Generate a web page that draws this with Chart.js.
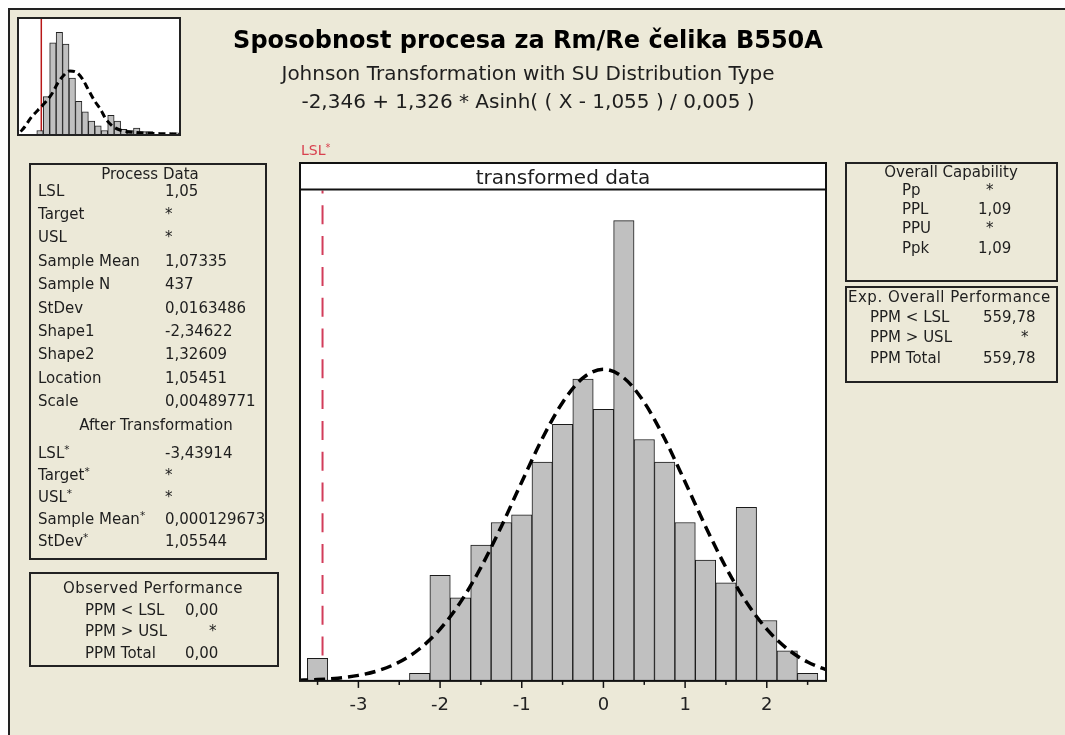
<!DOCTYPE html>
<html>
<head>
<meta charset="utf-8">
<script src="https://cdn.jsdelivr.net/npm/chart.js@4.4.0/dist/chart.umd.min.js"></script>
<style>
  html, body { margin: 0; padding: 0; background: #fff; }
  body { width: 1065px; height: 735px; position: relative; overflow: hidden; font-family: "DejaVu Sans", sans-serif; color: #1e1e1e; }
  #frame { position: absolute; left: 8px; top: 8px; width: 1057px; height: 727px; background: #ECE9D8; border-left: 2px solid #222; border-top: 2px solid #222; box-sizing: border-box; }
  #main { position: absolute; left: 0; top: 0; }
  #inset { position: absolute; left: 17px; top: 17px; width: 164px; height: 119px; border: 2px solid #222; background: #fff; box-sizing: border-box; }
  #inset canvas { display: block; }
  .box { position: absolute; border: 2px solid #222; box-sizing: border-box; }
  .t { position: absolute; white-space: nowrap; line-height: 1; }
  .t sup { font-size: 0.7em; vertical-align: 0.45em; line-height: 0; }
</style>
</head>
<body>
<div id="frame"></div>
<canvas id="main" width="1065" height="735"></canvas>
<div id="inset"><canvas id="raw" width="160" height="115"></canvas></div>
<div id="texts"></div>
<script>
// transformed data histogram (bin centres, counts)
const binCenters = [-3.5, -3.25, -3.0, -2.75, -2.5, -2.25, -2.0, -1.75, -1.5, -1.25, -1.0, -0.75, -0.5,
                    -0.25, 0, 0.25, 0.5, 0.75, 1.0, 1.25, 1.5, 1.75, 2.0, 2.25, 2.5];
const binCounts = [3, 0, 0, 0, 0, 1, 14, 11, 18, 21, 22, 29, 34, 40, 36, 61, 32, 29, 21, 16, 13, 23, 8, 4, 1];

// fitted curve
const curveX = [-3.75, -3.5, -3.25, -3.0, -2.75, -2.5, -2.25, -2.0, -1.75, -1.5, -1.25, -1.0, -0.75, -0.5,
                -0.25, 0, 0.25, 0.5, 0.75, 1.0, 1.25, 1.5, 1.75, 2.0, 2.25, 2.5, 2.75];
const curveY = [0.08, 0.17, 0.36, 0.73, 1.39, 2.5, 4.26, 6.86, 10.44, 15.04, 20.48, 26.37, 32.09, 36.91,
                40.16, 41.3, 40.16, 36.91, 32.09, 26.37, 20.48, 15.04, 10.44, 6.86, 4.26, 2.5, 1.39];

// raw data inset (top left)
const rawCenters = [1.049, 1.054, 1.059, 1.064, 1.069, 1.074, 1.079, 1.084, 1.089, 1.094, 1.099,
                    1.104, 1.109, 1.114, 1.119, 1.124, 1.129, 1.134, 1.139, 1.144, 1.149, 1.154];
const rawCounts = [3, 32, 78, 87, 77, 48, 28, 19, 11, 7, 3, 16, 11, 4, 3, 5, 2, 2, 0, 0, 0, 1];
const rawCurveX = [1.034, 1.037, 1.042, 1.047, 1.053, 1.058, 1.063, 1.068, 1.072, 1.077, 1.082,
                   1.086, 1.091, 1.096, 1.100, 1.105, 1.111, 1.123, 1.142, 1.157];
const rawCurveY = [2, 6, 14, 20, 27, 34, 44, 51, 54, 53, 47, 39, 29, 21, 13, 7, 3.4, 1.3, 0.3, 0];

const lsl = 1.05;
const lslT = -3.43914;

// text panels
const titleText = 'Sposobnost procesa za Rm/Re čelika B550A';
const subtitleText = 'Johnson Transformation with SU Distribution Type';
const formulaText = '-2,346 + 1,326 * Asinh( ( X - 1,055 ) / 0,005 )';
const processLabels = ['LSL', 'Target', 'USL', 'Sample Mean', 'Sample N', 'StDev', 'Shape1', 'Shape2', 'Location', 'Scale'];
const processValues = ['1,05', '*', '*', '1,07335', '437', '0,0163486', '-2,34622', '1,32609', '1,05451', '0,00489771'];
const afterLabels = ['LSL*', 'Target*', 'USL*', 'Sample Mean*', 'StDev*'];
const afterValues = ['-3,43914', '*', '*', '0,000129673', '1,05544'];
const observedLabels = ['PPM < LSL', 'PPM > USL', 'PPM Total'];
const observedValues = ['0,00', '*', '0,00'];
const capLabels = ['Pp', 'PPL', 'PPU', 'Ppk'];
const capValues = ['*', '1,09', '*', '1,09'];
const expLabels = ['PPM < LSL', 'PPM > USL', 'PPM Total'];
const expValues = ['559,78', '*', '559,78'];

const FONT = 'DejaVu Sans';
const headerTop = 163;

// ---------- html text ----------
const host = document.getElementById('texts');

function addBox(l, t, w, h) {
    const d = document.createElement('div');
    d.className = 'box';
    Object.assign(d.style, { left: l + 'px', top: t + 'px', width: w + 'px', height: h + 'px' });
    host.appendChild(d);
}

function addText(str, x, y, size, opt) {
    opt = opt || {};
    const d = document.createElement('div');
    d.className = 't';
    if (opt.sup && /\*$/.test(str)) {
        d.textContent = str.slice(0, -1);
        const s = document.createElement('sup');
        s.textContent = '*';
        d.appendChild(s);
    } else {
        d.textContent = str;
    }
    d.style.fontSize = size + 'px';
    d.style.left = x + 'px';
    d.style.top = (y - size * 0.5) + 'px';
    if (opt.bold) d.style.fontWeight = 'bold';
    if (opt.color) d.style.color = opt.color;
    if (opt.spacing) d.style.letterSpacing = opt.spacing + 'px';
    if (opt.align === 'center') d.style.transform = 'translateX(-50%)';
    if (opt.align === 'right') d.style.transform = 'translateX(-100%)';
    host.appendChild(d);
}

addText(titleText, 528, 40, 24, { bold: true, align: 'center', color: '#000' });
addText(subtitleText, 528, 73, 20, { align: 'center' });
addText(formulaText, 528, 101, 20, { align: 'center' });
addText('transformed data', 563, 177, 20, { align: 'center' });
addText('LSL*', 301, 150, 14, { color: '#d8404e', sup: true });

const PS = 15;
// process data
addBox(29, 163, 238, 397);
addText('Process Data', 150, 174, PS, { align: 'center' });
processLabels.forEach((s, i) => {
    const y = 191 + 23.4 * i;
    addText(s, 38, y, PS);
    addText(processValues[i], 165, y, PS);
});
addText('After Transformation', 156, 425, PS, { align: 'center' });
afterLabels.forEach((s, i) => {
    const y = 453 + 22 * i;
    addText(s, 38, y, PS, { sup: true });
    addText(afterValues[i], 165, y, PS);
});

// observed performance
addBox(29, 572, 250, 95);
addText('Observed Performance', 153, 588, PS, { align: 'center', spacing: 0.4 });
observedLabels.forEach((s, i) => {
    const y = 610 + 21.6 * i;
    addText(s, 85, y, PS);
    addText(observedValues[i], observedValues[i] === '*' ? 209 : 185, y, PS);
});

// overall capability
addBox(845, 162, 213, 120);
addText('Overall Capability', 951, 172, PS, { align: 'center' });
capLabels.forEach((s, i) => {
    const y = 190 + 19.4 * i;
    addText(s, 902, y, PS);
    addText(capValues[i], capValues[i] === '*' ? 986 : 978, y, PS);
});

// expected overall performance
addBox(845, 286, 213, 97);
addText('Exp. Overall Performance', 848, 297, PS, { spacing: 0.5 });
expLabels.forEach((s, i) => {
    const y = 317 + 20.5 * i;
    addText(s, 870, y, PS);
    addText(expValues[i], expValues[i] === '*' ? 1021 : 983, y, PS);
});

// ---------- main histogram ----------
const mainPlugin = {
    id: 'mainFrame',
    beforeDraw(chart) {
        const { ctx, chartArea: a } = chart;
        ctx.save();
        ctx.fillStyle = '#fff';
        ctx.fillRect(a.left, headerTop, a.right - a.left, a.bottom - headerTop);
        ctx.restore();
    },
    beforeDatasetsDraw(chart) {
        // LSL* reference line
        const { ctx, chartArea: a, scales: { x } } = chart;
        const px = x.getPixelForValue(lslT);
        ctx.save();
        ctx.strokeStyle = '#d23c5a';
        ctx.lineWidth = 2;
        ctx.setLineDash([19, 11.8]);
        ctx.lineDashOffset = 16;
        ctx.beginPath();
        ctx.moveTo(px, a.top);
        ctx.lineTo(px, a.bottom);
        ctx.stroke();
        ctx.restore();
    },
    afterDraw(chart) {
        const { ctx, chartArea: a, scales: { x } } = chart;
        ctx.save();
        ctx.strokeStyle = '#111';
        ctx.lineWidth = 2;
        ctx.strokeRect(a.left, headerTop, a.right - a.left, a.bottom - headerTop);
        ctx.beginPath();
        ctx.moveTo(a.left, a.top - 1);
        ctx.lineTo(a.right, a.top - 1);
        ctx.stroke();
        // major + minor tick marks
        ctx.lineWidth = 1.5;
        for (let v = -3.5; v <= 2.5; v += 0.5) {
            const px = x.getPixelForValue(v);
            const len = Number.isInteger(v) ? 7 : 4;
            ctx.beginPath();
            ctx.moveTo(px, a.bottom);
            ctx.lineTo(px, a.bottom + len);
            ctx.stroke();
        }
        ctx.restore();
    }
};

new Chart(document.getElementById('main'), {
    type: 'bar',
    data: {
        datasets: [{
            type: 'line',
            data: curveX.map((v, i) => ({ x: v, y: curveY[i] })),
            borderColor: '#000',
            borderWidth: 3.5,
            borderDash: [11, 6],
            pointRadius: 0,
            cubicInterpolationMode: 'monotone',
            fill: false,
            clip: 0,
            order: 0
        }, {
            type: 'bar',
            data: binCenters.map((v, i) => ({ x: v, y: binCounts[i] })),
            backgroundColor: '#c0c0c0',
            borderColor: '#1a1a1a',
            borderWidth: 1,
            barPercentage: 1,
            categoryPercentage: 1,
            order: 1
        }]
    },
    options: {
        responsive: false,
        animation: false,
        devicePixelRatio: 1,
        layout: { padding: { left: 300, right: 239, top: 190.5, bottom: 4.5 } },
        plugins: { legend: { display: false }, tooltip: { enabled: false } },
        scales: {
            x: {
                type: 'linear',
                min: -3.715,
                max: 2.725,
                offset: false,
                grid: { display: false, drawTicks: false, offset: false },
                border: { display: false },
                ticks: {
                    stepSize: 1,
                    includeBounds: false,
                    padding: 14,
                    color: '#222',
                    font: { family: FONT, size: 18 },
                    callback: v => String(v)
                }
            },
            y: { display: false, min: 0, max: 65 }
        }
    },
    plugins: [mainPlugin]
});

// ---------- raw data inset ----------
const insetPlugin = {
    id: 'lslLine',
    beforeDatasetsDraw(chart) {
        const { ctx, chartArea: a, scales: { x } } = chart;
        const px = x.getPixelForValue(lsl);
        ctx.save();
        ctx.strokeStyle = '#b81818';
        ctx.lineWidth = 1.5;
        ctx.beginPath();
        ctx.moveTo(px, a.top);
        ctx.lineTo(px, a.bottom);
        ctx.stroke();
        ctx.restore();
    }
};

new Chart(document.getElementById('raw'), {
    type: 'bar',
    data: {
        datasets: [{
            type: 'line',
            data: rawCurveX.map((v, i) => ({ x: v, y: rawCurveY[i] })),
            borderColor: '#000',
            borderWidth: 3,
            borderDash: [7, 4],
            pointRadius: 0,
            cubicInterpolationMode: 'monotone',
            fill: false,
            clip: 0,
            order: 0
        }, {
            type: 'bar',
            data: rawCenters.map((v, i) => ({ x: v, y: rawCounts[i] })),
            backgroundColor: '#c0c0c0',
            borderColor: '#222',
            borderWidth: 1,
            barPercentage: 1,
            categoryPercentage: 1,
            order: 1
        }]
    },
    options: {
        responsive: false,
        animation: false,
        devicePixelRatio: 1,
        layout: { padding: 0 },
        plugins: { legend: { display: false }, tooltip: { enabled: false } },
        scales: {
            x: { type: 'linear', display: false, min: 1.0327, max: 1.1568, offset: false },
            y: { display: false, min: 0, max: 98.5 }
        }
    },
    plugins: [insetPlugin]
});
</script>
</body>
</html>
